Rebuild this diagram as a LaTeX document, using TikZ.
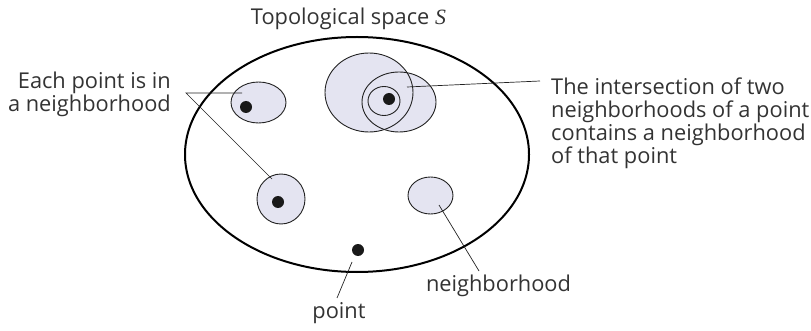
\documentclass[tikz,border=0pt]{standalone}
\usepackage{fontspec}
\setmainfont{Open Sans}
\newfontfamily\serifit{Liberation Serif}
\usetikzlibrary{shapes.geometric}
\definecolor{nbfill}{HTML}{E4E4F1}
\definecolor{txt}{HTML}{333333}
\definecolor{edge}{HTML}{222222}
\tikzset{
  nbhd/.style={ellipse, draw=edge, line width=0.9pt, inner sep=0pt, outer sep=0pt},
  pt/.style={circle, fill=black!90, inner sep=0pt, minimum size=12pt},
  lbl/.style={text=txt, inner sep=0pt, font=\fontsize{21.8}{23}\selectfont},
  conn/.style={draw=edge, line width=0.7pt},
}
\begin{document}
\begin{tikzpicture}[x=1pt,y=-1pt]
\useasboundingbox (0,0) rectangle (811,331);
% fills first
\fill[nbfill] (369,92.5) ellipse [x radius=44pt, y radius=39.5pt];
\fill[nbfill] (399,102) ellipse [x radius=37pt, y radius=30pt];
% big space
\node[ellipse, draw=black, line width=2pt, minimum width=344pt, minimum height=235pt, inner sep=0pt] (S) at (357,154.5) {};
% neighborhoods
\node[nbhd, minimum width=88pt, minimum height=79pt] (nA) at (369,92.5) {};
\node[nbhd, minimum width=74pt, minimum height=60pt] (nB) at (399,102) {};
\node[nbhd, fill=nbfill, minimum width=32pt, minimum height=29pt] (nC) at (384,101) {};
\node[pt] (p1) at (389,99) {};
\node[nbhd, fill=nbfill, minimum width=55pt, minimum height=41pt] (n1) at (258.5,102.5) {};
\node[pt] (p2) at (246,107) {};
\node[nbhd, fill=nbfill, minimum width=48pt, minimum height=50pt] (n2) at (281,199) {};
\node[pt] (p3) at (278,202) {};
\node[nbhd, fill=nbfill, minimum width=45pt, minimum height=37pt] (n3) at (430.5,195.5) {};
\node[pt] (p4) at (358,250) {};
% labels
\node[lbl, anchor=base] (title) at (348.5,25) {Topological space {\serifit\itshape S}};
\node[lbl, anchor=north east, align=right] (each) at (171,72) {Each point is in\\a neighborhood};
\node[lbl, anchor=north west, align=left] (inter) at (551,78) {The intersection of two\\neighborhoods of a point\\contains a neighborhood\\of that point};
\node[lbl, anchor=base] (nblbl) at (498.5,291) {neighborhood};
\node[lbl, anchor=base] (ptlbl) at (339,318) {point};
% connector end points
\coordinate (apex) at (186,93);
\coordinate (e1) at (242,93);
\coordinate (e2) at (272,179);
\coordinate (r0) at (540,81);
\coordinate (r1) at (407,87);
\coordinate (b0) at (479,271);
\coordinate (b1) at (439,205);
\coordinate (c0) at (337,298);
\coordinate (c1) at (352,262);
\draw[conn] (e1) -- (apex) -- (e2);
\draw[conn] (r0) -- (r1);
\draw[conn] (b0) -- (b1);
\draw[conn] (c0) -- (c1);
\end{tikzpicture}
\end{document}
